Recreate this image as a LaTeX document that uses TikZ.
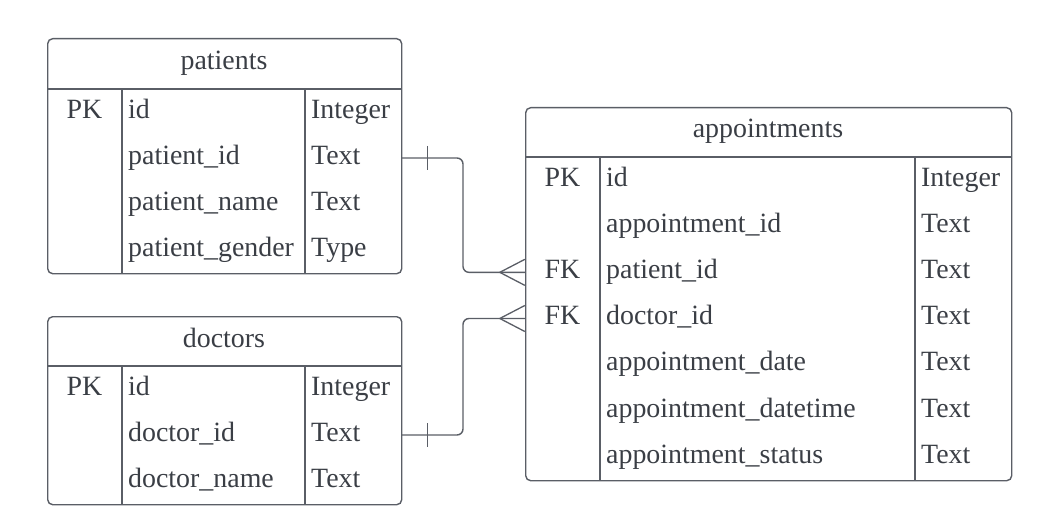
\documentclass[tikz,border=0pt]{standalone}
\usepackage{fontspec}
\setmainfont{Liberation Serif}
\usetikzlibrary{calc}
\definecolor{lc}{HTML}{5A5E66}
\definecolor{tc}{HTML}{3A3E45}
\begin{document}
\begin{tikzpicture}[x=1pt,y=-1pt,
  tbl/.style={draw=lc, line width=1.4pt, rounded corners=5pt, inner sep=0, anchor=north west},
  sep/.style={draw=lc, line width=1.4pt},
  rowbox/.style={inner sep=0, minimum height=46pt},
  cell/.style={text=tc, font=\fontsize{27.9}{30}\selectfont, inner sep=0, anchor=base west},
  key/.style={cell, anchor=base},
  ttl/.style={cell, anchor=base},
  conn/.style={draw=lc, line width=1.4pt, rounded corners=6pt},
  crow/.style={draw=lc, line width=1.3pt}]
\useasboundingbox (0,0) rectangle (1037,532);

% patients
\node[tbl, minimum width=354pt, minimum height=235pt] (patients) at (47,38) {};
\node[ttl] (patients-t) at (224,70) {patients};
\draw[sep] (47,89) -- (401,89);
\draw[sep] (122,89) -- (122,273);
\draw[sep] (305,89) -- (305,273);
\foreach \i/\k/\n/\t in {1/PK/id/Integer, 2//patient\_id/Text, 3//patient\_name/Text, 4//patient\_gender/Type}{
  \pgfmathsetmacro{\yc}{89+46*(\i-0.5)}
  \node[rowbox, minimum width=354pt] (p\i) at (224,\yc) {};
  \node[key] (pk\i) at (84.5,{\yc+6.3}) {\k};
  \node[cell] (pn\i) at (128,{\yc+6.3}) {\n};
  \node[cell] (pt\i) at (311,{\yc+6.3}) {\t};
}

% doctors
\node[tbl, minimum width=354pt, minimum height=188pt] (doctors) at (47,316) {};
\node[ttl] (doctors-t) at (224,347.5) {doctors};
\draw[sep] (47,366) -- (401,366);
\draw[sep] (122,366) -- (122,504);
\draw[sep] (305,366) -- (305,504);
\foreach \i/\k/\n/\t in {1/PK/id/Integer, 2//doctor\_id/Text, 3//doctor\_name/Text}{
  \pgfmathsetmacro{\yc}{366+46*(\i-0.5)}
  \node[rowbox, minimum width=354pt] (d\i) at (224,\yc) {};
  \node[key] (dk\i) at (84.5,{\yc+6.3}) {\k};
  \node[cell] (dn\i) at (128,{\yc+6.3}) {\n};
  \node[cell] (dt\i) at (311,{\yc+6.3}) {\t};
}

% appointments
\node[tbl, minimum width=486pt, minimum height=373pt] (appointments) at (525,107) {};
\node[ttl] (appointments-t) at (768,138) {appointments};
\draw[sep] (525,157) -- (1011,157);
\draw[sep] (600,157) -- (600,480);
\draw[sep] (915,157) -- (915,480);
\foreach \i/\k/\n/\t in {1/PK/id/Integer, 2//appointment\_id/Text, 3/FK/patient\_id/Text, 4/FK/doctor\_id/Text, 5//appointment\_date/Text, 6//appointment\_datetime/Text, 7//appointment\_status/Text}{
  \pgfmathsetmacro{\yc}{157+46.14*(\i-0.5)}
  \node[rowbox, minimum width=486pt] (a\i) at (768,\yc) {};
  \node[key] (ak\i) at (562.5,{\yc+6.3}) {\k};
  \node[cell] (an\i) at (606,{\yc+6.3}) {\n};
  \node[cell] (at\i) at (921,{\yc+6.3}) {\t};
}

% connectors
\draw[conn] (p2.east) -| ($(p2.east)!0.5!(a3.west)$) |- (a3.west);
\draw[crow] ($(p2.east)+(26,-12)$) -- ($(p2.east)+(26,12)$);
\draw[crow] ($(a3.west)+(0,-13)$) -- ($(a3.west)+(-25,0)$) -- ($(a3.west)+(0,13)$);

\draw[conn] (d2.east) -| ($(d2.east)!0.5!(a4.west)$) |- (a4.west);
\draw[crow] ($(d2.east)+(26,-12)$) -- ($(d2.east)+(26,12)$);
\draw[crow] ($(a4.west)+(0,-13)$) -- ($(a4.west)+(-25,0)$) -- ($(a4.west)+(0,13)$);
\end{tikzpicture}
\end{document}
